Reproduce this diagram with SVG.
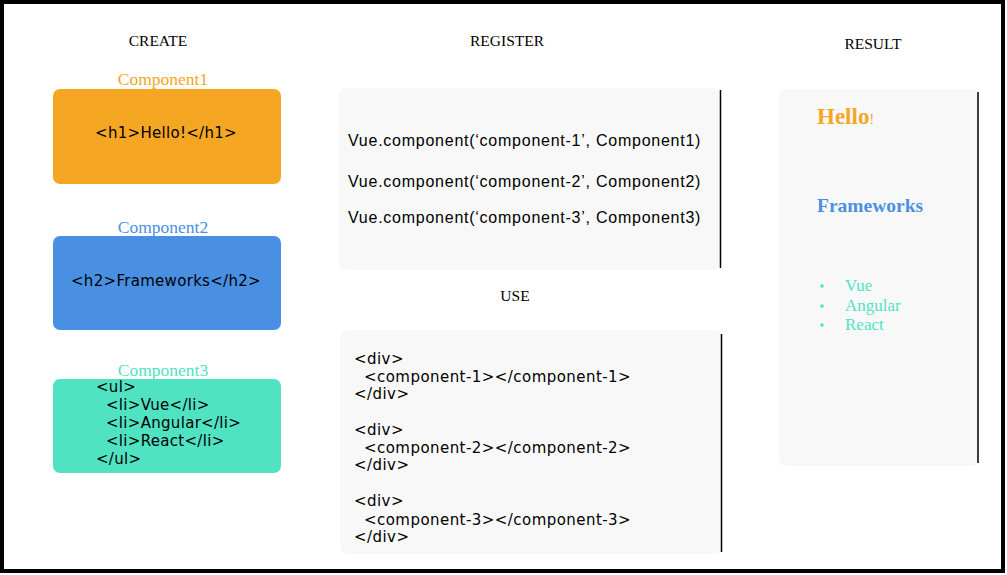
<svg xmlns="http://www.w3.org/2000/svg" width="1007" height="575" viewBox="0 0 1007 575">
<style>
.hdr{font-family:"Liberation Serif",serif;font-size:15.5px;fill:#000;text-anchor:middle}
.lbl{font-family:"Liberation Serif",serif;font-size:17.5px;text-anchor:middle}
.code{font-family:"DejaVu Sans",sans-serif;font-size:15px;letter-spacing:0.3px;fill:#000}
.use{font-family:"DejaVu Sans",sans-serif;font-size:15px;letter-spacing:0.45px;fill:#000}
.reg{font-family:"Liberation Sans",sans-serif;font-size:16px;letter-spacing:0.75px;fill:#000}
.panel{fill:#f8f8f8}
.edge{stroke:#000;stroke-width:1.5}
</style>
<rect x="2" y="2" width="1001" height="569" fill="#fff" stroke="#000" stroke-width="4"/>
<text class="hdr" x="158" y="46">CREATE</text>
<text class="hdr" x="507" y="46">REGISTER</text>
<text class="hdr" x="873" y="49">RESULT</text>
<text class="hdr" x="515" y="301">USE</text>
<g id="component1">
<text class="lbl" x="163" y="85" fill="#f5a623">Component1</text>
<rect x="53" y="89" width="228" height="95" rx="7" fill="#f5a623"/>
<text class="code" x="166" y="138" text-anchor="middle">&lt;h1&gt;Hello!&lt;/h1&gt;</text>
</g>
<g id="component2">
<text class="lbl" x="163" y="233" fill="#4a90e2">Component2</text>
<rect x="53" y="236" width="228" height="94" rx="7" fill="#4a90e2"/>
<text class="code" x="166" y="286" text-anchor="middle">&lt;h2&gt;Frameworks&lt;/h2&gt;</text>
</g>
<g id="component3">
<text class="lbl" x="163" y="376" fill="#50e3c2">Component3</text>
<rect x="53" y="379" width="228" height="94" rx="7" fill="#50e3c2"/>
<text class="code" x="96" y="392">&lt;ul&gt;</text>
<text class="code" x="106" y="410">&lt;li&gt;Vue&lt;/li&gt;</text>
<text class="code" x="106" y="428">&lt;li&gt;Angular&lt;/li&gt;</text>
<text class="code" x="106" y="446">&lt;li&gt;React&lt;/li&gt;</text>
<text class="code" x="96" y="464">&lt;/ul&gt;</text>
</g>
<g id="register">
<rect class="panel" x="339" y="88" width="382" height="182" rx="8"/>
<line class="edge" x1="720.5" y1="90" x2="720.5" y2="268"/>
<text class="reg" x="348" y="146">Vue.component(‘component-1’, Component1)</text>
<text class="reg" x="348" y="187">Vue.component(‘component-2’, Component2)</text>
<text class="reg" x="348" y="223">Vue.component(‘component-3’, Component3)</text>
</g>
<g id="use">
<rect class="panel" x="340" y="330" width="382" height="224" rx="8"/>
<line class="edge" x1="721.5" y1="334" x2="721.5" y2="552"/>
<text class="use" x="354" y="364">&lt;div&gt;</text>
<text class="use" x="364" y="382">&lt;component-1&gt;&lt;/component-1&gt;</text>
<text class="use" x="354" y="399">&lt;/div&gt;</text>
<text class="use" x="354" y="435">&lt;div&gt;</text>
<text class="use" x="364" y="453">&lt;component-2&gt;&lt;/component-2&gt;</text>
<text class="use" x="354" y="470">&lt;/div&gt;</text>
<text class="use" x="354" y="506">&lt;div&gt;</text>
<text class="use" x="364" y="525">&lt;component-3&gt;&lt;/component-3&gt;</text>
<text class="use" x="354" y="542">&lt;/div&gt;</text>
</g>
<g id="result">
<rect class="panel" x="779" y="89" width="200" height="377" rx="8"/>
<line class="edge" x1="978" y1="92" x2="978" y2="463"/>
<text x="817" y="124" font-family="Liberation Serif,serif" font-weight="bold" font-size="23" fill="#f5a623">Hello<tspan font-size="14" font-weight="normal">!</tspan></text>
<text x="817" y="212" font-family="Liberation Serif,serif" font-weight="bold" font-size="19.5" fill="#4a90e2">Frameworks</text>
<g font-family="Liberation Serif,serif" font-size="17" fill="#50e3c2">
<circle cx="822" cy="286" r="1.8"/>
<circle cx="822" cy="306" r="1.8"/>
<circle cx="822" cy="325" r="1.8"/>
<text x="845" y="291">Vue</text>
<text x="845" y="311">Angular</text>
<text x="845" y="330">React</text>
</g>
</g>
<g id="connectors"/>
</svg>
